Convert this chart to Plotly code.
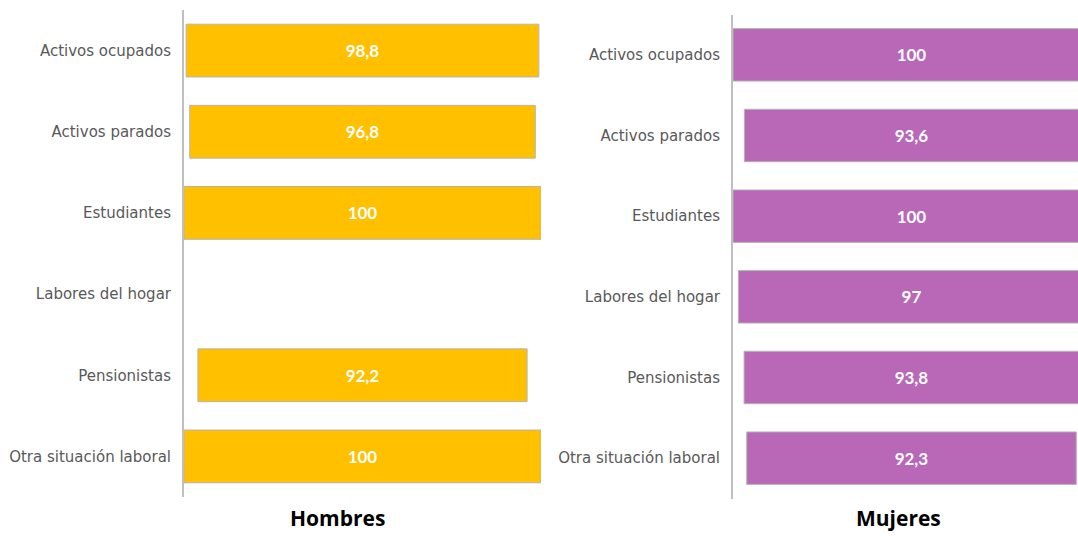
import plotly.graph_objects as go

categories = ["Activos ocupados", "Activos parados", "Estudiantes",
              "Labores del hogar", "Pensionistas", "Otra situación laboral"]
hombres = [98.8, 96.8, 100, None, 92.2, 100]
mujeres = [100, 93.6, 100, 97, 93.8, 92.3]

COL_H = "#FFC000"
COL_M = "#B967B7"
W, H = 1078, 536


def fmt(v):
    return "" if v is None else f"{v:g}".replace(".", ",")


def half(vals):
    return [None if v is None else -v / 2 for v in vals]


def px_x(p):
    return min(1.0, p / W)


def px_y(p):
    return 1 - p / H


fig = go.Figure()
for vals, col, xa, ya in [(hombres, COL_H, "x", "y"), (mujeres, COL_M, "x2", "y2")]:
    fig.add_trace(go.Bar(
        y=categories, x=vals, base=half(vals), orientation="h",
        marker=dict(color=col, line=dict(color="#B4B4B4", width=1)),
        width=0.65,
        text=[fmt(v) for v in vals], textposition="inside", insidetextanchor="middle",
        textfont=dict(family="Lato", size=17, color="white", weight="bold"),
        cliponaxis=True, xaxis=xa, yaxis=ya, showlegend=False, hoverinfo="skip",
    ))

tickfont = dict(family="DejaVu Sans", size=15, color="#595959")
axis_common = dict(showgrid=False, zeroline=False)
px_per_unit = (541 - 184) / 100
fig.update_layout(
    width=W, height=H, margin=dict(l=0, r=0, t=0, b=0),
    paper_bgcolor="white", plot_bgcolor="white",
    xaxis=dict(domain=[px_x(184), px_x(541)], range=[-50, 50], visible=False, **axis_common),
    yaxis=dict(domain=[px_y(497), px_y(10)], autorange="reversed",
               showline=True, linecolor="#BFBFBF", linewidth=2, ticks="",
               ticklabelstandoff=8, tickfont=tickfont, **axis_common),
    xaxis2=dict(domain=[px_x(733), 1.0],
                range=[-50, -50 + (W - 733) / px_per_unit],
                visible=False, anchor="y2", **axis_common),
    yaxis2=dict(domain=[px_y(498.5), px_y(14.5)], autorange="reversed", anchor="x2",
                showline=True, linecolor="#BFBFBF", linewidth=2, ticks="",
                ticklabelstandoff=8, tickfont=tickfont, **axis_common),
)

for txt, xc in [("Hombres", 337), ("Mujeres", 898)]:
    fig.add_annotation(text=txt, x=px_x(xc), y=px_y(534), xref="paper", yref="paper",
                       showarrow=False, xanchor="center", yanchor="bottom",
                       font=dict(family="Open Sans", size=21, color="black", weight="bold"))

fig.write_html("out.html",
               config={"displayModeBar": False},
               post_script="document.body.style.margin='0px';document.body.style.overflow='hidden';")
